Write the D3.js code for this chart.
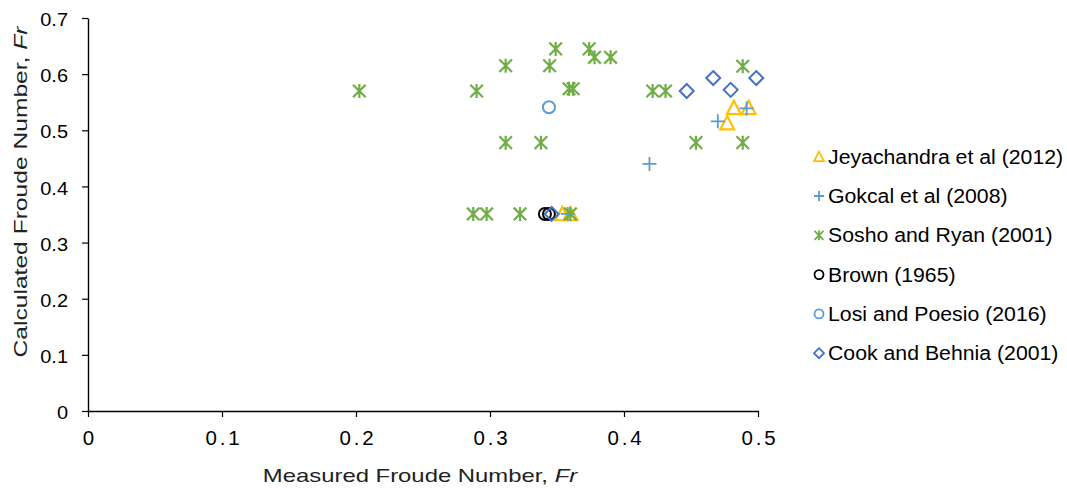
<!DOCTYPE html>
<html>
<head>
<meta charset="utf-8">
<script src="https://cdn.jsdelivr.net/npm/d3@7"></script>
<style>
  html, body { margin: 0; padding: 0; background: #fff; }
  svg { display: block; font-family: "Liberation Sans", Arial, sans-serif; }
</style>
</head>
<body>
<svg id="chart" width="1067" height="488"></svg>
<script>
// Measured vs calculated Froude number, by data source
const seriesNames = [
  "Jeyachandra et al (2012)",
  "Gokcal et al (2008)",
  "Sosho and Ryan (2001)",
  "Brown (1965)",
  "Losi and Poesio (2016)",
  "Cook and Behnia (2001)"
];

const jeyachandra = [[0.482, 0.540], [0.493, 0.540], [0.477, 0.513], [0.354, 0.351], [0.360, 0.351]];
const gokcal = [[0.419, 0.440], [0.470, 0.516], [0.4915, 0.539], [0.358, 0.351]];
const soshoRyan = [
  [0.2025, 0.570], [0.290, 0.570], [0.3117, 0.615], [0.3445, 0.615], [0.349, 0.645],
  [0.374, 0.645], [0.378, 0.630], [0.390, 0.630], [0.359, 0.574], [0.362, 0.574],
  [0.3117, 0.478], [0.338, 0.478], [0.4214, 0.570], [0.431, 0.570], [0.4886, 0.614],
  [0.4537, 0.478], [0.4886, 0.478], [0.2875, 0.351], [0.2975, 0.351], [0.3224, 0.351],
  [0.360, 0.351]
];
const brown = [[0.341, 0.351], [0.344, 0.351]];
const losiPoesio = [[0.344, 0.541]];
const cookBehnia = [[0.4468, 0.570], [0.4666, 0.593], [0.4796, 0.572], [0.4987, 0.593], [0.346, 0.351]];

const xTicks = [0, 0.1, 0.2, 0.3, 0.4, 0.5];
const yTicks = [0, 0.1, 0.2, 0.3, 0.4, 0.5, 0.6, 0.7];

// Marker shapes, s = half size
const shapes = {
  triangle: s => `M0,${-s} L${s},${s * 0.9} L${-s},${s * 0.9} Z`,
  plus: s => `M${-s},0 H${s} M0,${-s} V${s}`,
  star: s => `M${-s * 0.9},${-s * 0.9} L${s * 0.9},${s * 0.9} M${-s * 0.9},${s * 0.9} L${s * 0.9},${-s * 0.9} M0,${-s} V${s}`,
  circle: s => `M${s},0 A${s},${s} 0 1,1 ${-s},0 A${s},${s} 0 1,1 ${s},0 Z`,
  diamond: s => `M0,${-s} L${s},0 L0,${s} L${-s},0 Z`
};

const series = [
  { name: seriesNames[0], data: jeyachandra, shape: "triangle", color: "#FFC000", size: 7, width: 2.2 },
  { name: seriesNames[1], data: gokcal, shape: "plus", color: "#5B9BD5", size: 7, width: 1.8 },
  { name: seriesNames[2], data: soshoRyan, shape: "star", color: "#70AD47", size: 7, width: 2.2 },
  { name: seriesNames[3], data: brown, shape: "circle", color: "#000000", size: 6, width: 2 },
  { name: seriesNames[4], data: losiPoesio, shape: "circle", color: "#5B9BD5", size: 6, width: 2 },
  { name: seriesNames[5], data: cookBehnia, shape: "diamond", color: "#4472C4", size: 7, width: 2 }
];

const svg = d3.select("#chart");

const x = d3.scaleLinear().domain([0, 0.5]).range([88, 758]);
const y = d3.scaleLinear().domain([0, 0.7]).range([411, 18]);

// Stretch text horizontally to a given factor of its natural width
function stretch(sel, factor, adjust) {
  sel.each(function () {
    const w = this.getComputedTextLength();
    d3.select(this)
      .attr("textLength", w * factor)
      .attr("lengthAdjust", adjust || "spacingAndGlyphs");
  });
}

// Axes
const xAxis = svg.append("g")
  .attr("transform", `translate(0,${y(0)})`)
  .call(d3.axisBottom(x).tickValues(xTicks).tickSize(6).tickSizeOuter(0)
    .tickFormat(d => d === 0 ? "0" : d3.format(".1f")(d)));
xAxis.select(".domain").attr("stroke", "#000").attr("stroke-width", 1.4);
xAxis.selectAll(".tick line").attr("stroke", "#000").attr("stroke-width", 1.2);
xAxis.selectAll(".tick text")
  .attr("y", 0).attr("dy", 0)
  .attr("transform", "translate(0,34)")
  .attr("font-size", 20.5)
  .attr("fill", "#000")
  .call(stretch, 1.2, "spacing");

const yAxis = svg.append("g")
  .attr("transform", `translate(${x(0)},0)`)
  .call(d3.axisLeft(y).tickValues(yTicks).tickSize(6).tickSizeOuter(0)
    .tickFormat(d => d === 0 ? "0" : d3.format(".1f")(d)));
yAxis.select(".domain").attr("stroke", "#000").attr("stroke-width", 1.4);
yAxis.selectAll(".tick line").attr("stroke", "#000").attr("stroke-width", 1.2);
yAxis.selectAll(".tick text")
  .attr("x", -20)
  .attr("dy", "0.41em")
  .attr("font-size", 18.5)
  .attr("fill", "#000")
  .call(stretch, 1.08);

// Axis titles
const xTitle = svg.append("text")
  .attr("x", 420).attr("y", 482)
  .attr("text-anchor", "middle")
  .attr("font-size", 18.5)
  .attr("fill", "#222");
xTitle.append("tspan").text("Measured Froude Number, ");
xTitle.append("tspan").attr("font-style", "italic").text("Fr");
stretch(xTitle, 1.29);

const yTitle = svg.append("text")
  .attr("transform", `translate(27,192) rotate(-90)`)
  .attr("text-anchor", "middle")
  .attr("font-size", 18.5)
  .attr("fill", "#222");
yTitle.append("tspan").text("Calculated Froude Number, ");
yTitle.append("tspan").attr("font-style", "italic").text("Fr");
stretch(yTitle, 1.33);

// Points
series.forEach(s => {
  svg.append("g")
    .selectAll("path")
    .data(s.data)
    .join("path")
    .attr("transform", d => `translate(${x(d[0])},${y(d[1])})`)
    .attr("d", shapes[s.shape](s.size))
    .attr("fill", "none")
    .attr("stroke", s.color)
    .attr("stroke-width", s.width);
});

// Legend
const legend = svg.append("g");
series.forEach((s, i) => {
  const cy = 156.7 + i * 39.3;
  legend.append("path")
    .attr("transform", `translate(819,${cy})`)
    .attr("d", shapes[s.shape](s.shape === "circle" ? 4.5 : 5))
    .attr("fill", "none")
    .attr("stroke", s.color)
    .attr("stroke-width", 1.8);
  legend.append("text")
    .attr("x", 828).attr("y", cy + 7)
    .attr("font-size", 19.5)
    .attr("fill", "#000")
    .text(s.name)
    .call(stretch, 1.09);
});
</script>
</body>
</html>
